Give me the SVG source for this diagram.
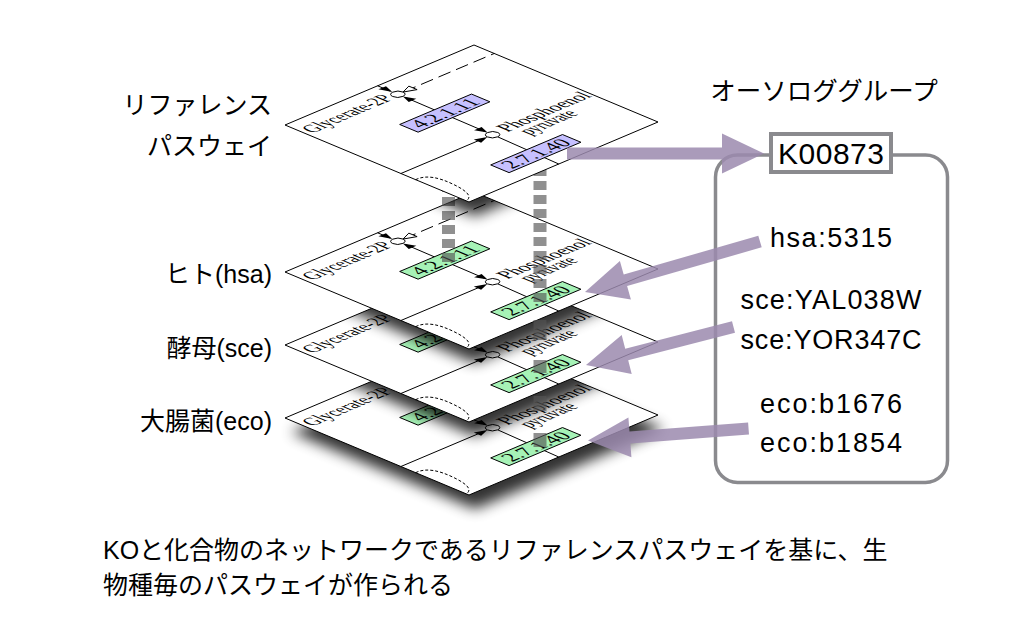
<svg xmlns="http://www.w3.org/2000/svg" xmlns:xlink="http://www.w3.org/1999/xlink" width="1021" height="633" viewBox="0 0 1021 633">
<style>
.sheet{fill:#fff;stroke:#000;stroke-width:1;vector-effect:non-scaling-stroke}
.ln{fill:none;stroke:#000;stroke-width:1;vector-effect:non-scaling-stroke}
.dl{stroke-dasharray:13 6}
.loop{stroke-dasharray:3 2}
.ah{fill:#000;stroke:none}
.oa{fill:#fff;stroke:#000;stroke-width:1;vector-effect:non-scaling-stroke}
.cp{fill:#fff;stroke:#000;stroke-width:1;vector-effect:non-scaling-stroke}
.ec{stroke:#000;stroke-width:1;vector-effect:non-scaling-stroke}
.mt{font-family:'Liberation Serif','Times New Roman',serif;font-size:21px;fill:#000}
.ect{font-family:'Liberation Serif','Times New Roman',serif;font-size:21px;fill:#000;text-anchor:middle}
.lbl{font-family:'Liberation Sans','Noto Sans CJK JP',sans-serif;font-size:25px;fill:#000}
.gene{font-family:'Liberation Sans',Arial,sans-serif;font-size:27px;fill:#000;text-anchor:middle}
.bar{fill:none;stroke:#555;stroke-width:13;stroke-dasharray:9 5;opacity:0.65}
.patch{fill:#555;opacity:0.65}
.arrow{fill:#9b8aae;opacity:0.85}
.shadow{fill:#000;opacity:0.8}
.panel{fill:none;stroke:#8a8a8e;stroke-width:3.5}
.kbox{fill:#fff;stroke:#8a8a8e;stroke-width:4}
</style>
<defs>
<filter id="blur" x="-20%" y="-40%" width="140%" height="180%"><feGaussianBlur stdDeviation="7"/></filter>
<clipPath id="clip2"><polygon points="285,272 474,192 658,269 469,349"/></clipPath>
<clipPath id="clip3"><polygon points="285,345 474,265 658,342 469,422"/></clipPath>
<clipPath id="clip4"><polygon points="285,418 474,338 658,415 469,495"/></clipPath>
<g id="map">
<polygon class="sheet" points="0,0 200,0 200,200 0,200"/>
<line class="ln" x1="98" y1="0" x2="98" y2="14"/>
<polygon class="ah" points="98,16 94,5 102,5"/>
<line class="ln dl" x1="104" y1="22" x2="200" y2="22"/>
<polygon class="oa" points="103.5,22 114,17.5 114,26.5"/>
<line class="ln" x1="98" y1="30" x2="97" y2="118"/>
<polygon class="ah" points="98,27.5 94,38 102,38"/>
<polygon class="ah" points="97,120.5 93,110 101,110"/>
<line class="ln" x1="0" y1="126" x2="85" y2="126"/>
<polygon class="ah" points="91.5,126 81,122 81,130"/>
<line class="ln" x1="97" y1="131.5" x2="95" y2="200"/>
<circle class="cp" cx="98" cy="22" r="5.5"/>
<circle class="cp" cx="97" cy="126" r="5.5"/>
<rect class="ec" x="61" y="62" width="76" height="20"/>
<text class="ect" x="99" y="79" textLength="64" lengthAdjust="spacingAndGlyphs">4.2.1.11</text>
<rect class="ec" x="58" y="164" width="76" height="20"/>
<text class="ect" x="96" y="181" textLength="64" lengthAdjust="spacingAndGlyphs">2.7.1.40</text>
<text class="mt" x="4" y="26" textLength="86" lengthAdjust="spacingAndGlyphs">Glycerate-2P</text>
<text class="mt" x="108" y="131" textLength="90" lengthAdjust="spacingAndGlyphs">Phosphoenol</text>
<text class="mt" x="116" y="147" textLength="52" lengthAdjust="spacingAndGlyphs">pyruvate</text>
<path class="ln loop" d="M0,142 C12,141 15,152 14,168 C13,184 9,195 0,197"/>
</g>
</defs>
<rect width="1021" height="633" fill="#fff"/>

<g id="shadow-eco"><polygon class="shadow" filter="url(#blur)" points="291,432 480,352 664,429 475,509"/></g>
<g id="layer-eco" transform="matrix(0.945 -0.4 0.92 0.385 285 418)"><use href="#map" xlink:href="#map" fill="#a6f2b6"/></g>
<g id="shadow-sce" clip-path="url(#clip4)"><polygon class="shadow" filter="url(#blur)" points="291,359 480,279 664,356 475,436"/></g>
<g id="layer-sce" transform="matrix(0.945 -0.4 0.92 0.385 285 345)"><use href="#map" xlink:href="#map" fill="#a6f2b6"/></g>
<g id="shadow-hsa" clip-path="url(#clip3)"><polygon class="shadow" filter="url(#blur)" points="291,286 480,206 664,283 475,363"/></g>
<g id="layer-hsa" transform="matrix(0.945 -0.4 0.92 0.385 285 272)"><use href="#map" xlink:href="#map" fill="#a6f2b6"/></g>

<g id="connectors">
<g id="bars">
<path class="bar" d="M448.5,113 V263"/>
<path class="bar" d="M540,153 V303"/>
<rect class="patch" x="533.5" y="320" width="13" height="20"/>
<rect class="patch" x="533.5" y="360" width="13" height="13"/>
<rect class="patch" x="533.5" y="396" width="13" height="15"/>
<rect class="patch" x="533.5" y="433" width="13" height="14"/>
</g>
</g>

<g id="shadow-ref" clip-path="url(#clip2)"><polygon class="shadow" filter="url(#blur)" points="291,139 480,59 664,136 475,216"/></g>
<g id="layer-ref" transform="matrix(0.945 -0.4 0.92 0.385 285 125)"><use href="#map" xlink:href="#map" fill="#c6c0ff"/></g>

<g id="labels">
<g id="label-ref"><text class="lbl" x="272" y="114" text-anchor="end">リファレンス</text><text class="lbl" x="272" y="155" text-anchor="end">パスウェイ</text></g>
<g id="label-hsa"><text class="lbl" x="272" y="283" text-anchor="end">ヒト(hsa)</text></g>
<g id="label-sce"><text class="lbl" x="272" y="357" text-anchor="end">酵母(sce)</text></g>
<g id="label-eco"><text class="lbl" x="272" y="430" text-anchor="end">大腸菌(eco)</text></g>
</g>

<g id="ortholog-group">
<text class="lbl" x="824" y="100" text-anchor="middle" style="font-size:25.5px">オーソロググループ</text>
<rect class="panel" x="715.5" y="155" width="232" height="327.5" rx="22"/>
<g id="genes">
<text class="gene" x="831" y="247" textLength="122">hsa:5315</text>
<text class="gene" x="831" y="309" textLength="181">sce:YAL038W</text>
<text class="gene" x="831" y="349" textLength="181">sce:YOR347C</text>
<text class="gene" x="831" y="413" textLength="142">eco:b1676</text>
<text class="gene" x="831" y="452" textLength="142">eco:b1854</text>
</g>
</g>

<g id="arrows">
<polygon class="arrow" points="567,147.5 722,147.5 722,133.5 764,153.5 722,173.5 722,159.5 567,159.5"/>
<polygon class="arrow" points="758.3,235.7 623.7,274.6 619.9,261.1 585,292 630.9,299.6 627.1,286.1 761.7,247.3"/>
<polygon class="arrow" points="732,321.2 625.2,348.7 621.7,335.1 586,365 631.7,373.9 628.2,360.3 735,332.8"/>
<polygon class="arrow" points="748.1,422.5 629.5,431.4 628.4,417.5 588,440.5 631.4,457.3 630.4,443.4 749,434.5"/>
</g>

<g id="ko-K00873">
<rect class="kbox" x="771" y="134" width="120" height="38"/>
<text class="gene" x="831" y="164" style="font-size:30px" textLength="106">K00873</text>
</g>

<g id="caption">
<text class="lbl" x="103" y="559">KOと化合物のネットワークであるリファレンスパスウェイを基に、生</text>
<text class="lbl" x="103" y="594">物種毎のパスウェイが作られる</text>
</g>
</svg>
